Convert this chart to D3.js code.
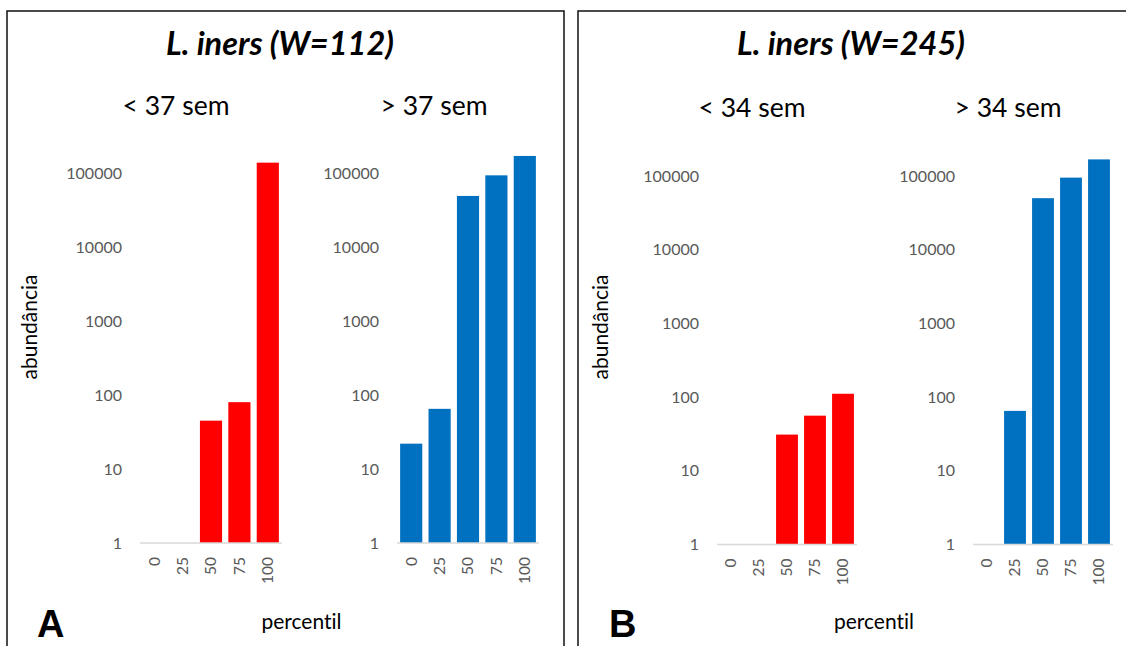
<!DOCTYPE html>
<html>
<head>
<meta charset="utf-8">
<script src="https://cdn.jsdelivr.net/npm/d3@7"></script>
<style>
  html, body { margin: 0; padding: 0; background: #fff; }
  svg { display: block; font-family: Lato, "Open Sans", sans-serif; font-variant-ligatures: none; }
</style>
</head>
<body>
<svg id="chart" width="1126" height="646"></svg>
<script>
// Percentile categories and y-axis tick values (log scale)
const categories = ["0", "25", "50", "75", "100"];
const yTicks = [1, 10, 100, 1000, 10000, 100000];

// L. iners abundance per percentile
const aPreterm = [0, 0, 45, 80, 138000];        // A: < 37 sem
const aTerm = [22, 65, 49000, 93000, 170000];   // A: > 37 sem
const bPreterm = [0, 0, 31, 56, 111];           // B: < 34 sem
const bTerm = [0, 65, 50000, 95000, 168000];    // B: > 34 sem

const panelTitles = ["L. iners (W=112)", "L. iners (W=245)"];
const panelLetters = ["A", "B"];
const groupLabels = [["< 37 sem", "> 37 sem"], ["< 34 sem", "> 34 sem"]];

const RED = "#ff0000", BLUE = "#0070c0";
const svg = d3.select("#chart");

// Panel frames and texts
const panels = [
  { box: [7, 11, 557, 700], cx: 280, subY: 115, subX: [176, 434], ylabX: 37, letterX: 37, pctX: 301.5,
    plots: [
      { values: aPreterm, color: RED, x0: 140, x1: 282, y1: 543, yTop: 173 },
      { values: aTerm, color: BLUE, x0: 397, x1: 539, y1: 543, yTop: 173 }
    ] },
  { box: [578, 11, 600, 700], cx: 851, subY: 117, subX: [752, 1008], ylabX: 608, letterX: 609, pctX: 874,
    plots: [
      { values: bPreterm, color: RED, x0: 717, x1: 857, y1: 544.5, yTop: 176 },
      { values: bTerm, color: BLUE, x0: 973, x1: 1113, y1: 544.5, yTop: 176 }
    ] }
];

panels.forEach((p, i) => {
  svg.append("rect")
    .attr("x", p.box[0]).attr("y", p.box[1])
    .attr("width", p.box[2]).attr("height", p.box[3])
    .attr("fill", "none").attr("stroke", "#111").attr("stroke-width", 1.5);

  svg.append("text")
    .attr("x", p.cx).attr("y", 55)
    .attr("text-anchor", "middle")
    .attr("font-size", 32.5).attr("font-weight", "bold").attr("font-style", "italic")
    .attr("fill", "#000")
    .text(panelTitles[i]);

  groupLabels[i].forEach((g, j) => {
    svg.append("text")
      .attr("x", p.subX[j]).attr("y", p.subY)
      .attr("text-anchor", "middle")
      .attr("font-size", 26.5).attr("fill", "#000")
      .text(g);
  });

  // y-axis title
  svg.append("text")
    .attr("transform", `translate(${p.ylabX},327) rotate(-90)`)
    .attr("text-anchor", "middle")
    .attr("font-size", 21).attr("fill", "#000")
    .text("abundância");

  // x-axis title
  svg.append("text")
    .attr("x", p.pctX).attr("y", 629)
    .attr("text-anchor", "middle")
    .attr("font-size", 21).attr("fill", "#000")
    .text("percentil");

  // panel letter
  svg.append("text")
    .attr("x", p.letterX).attr("y", 637)
    .attr("font-family", "'Liberation Sans', Arial, sans-serif")
    .attr("font-size", 38).attr("font-weight", "bold").attr("fill", "#000")
    .text(panelLetters[i]);

  p.plots.forEach(pl => drawPlot(pl));
});

function drawPlot(pl) {
  const x = d3.scaleBand().domain(categories).range([pl.x0, pl.x1])
    .paddingInner(0.22).paddingOuter(0.11);
  const y = d3.scaleLog().domain([1, 100000]).range([pl.y1, pl.yTop]);

  const g = svg.append("g");

  // y axis: labels only
  const yAxis = g.append("g")
    .attr("transform", `translate(${pl.x0},0)`)
    .call(d3.axisLeft(y).tickValues(yTicks).tickFormat(d3.format("d")).tickSize(0).tickPadding(18));
  yAxis.select(".domain").remove();
  yAxis.selectAll("text")
    .attr("font-family", "Lato, 'Open Sans', sans-serif")
    .attr("font-size", 16).attr("fill", "#595959");

  // bars
  const data = categories.map((c, k) => ({ c, v: pl.values[k] })).filter(d => d.v >= 1);
  g.selectAll("rect.bar").data(data).join("rect")
    .attr("class", "bar")
    .attr("x", d => x(d.c))
    .attr("width", x.bandwidth())
    .attr("y", d => y(d.v))
    .attr("height", d => y(1) - y(d.v))
    .attr("fill", pl.color);

  // category axis line
  g.append("line")
    .attr("x1", pl.x0).attr("x2", pl.x1)
    .attr("y1", y(1)).attr("y2", y(1))
    .attr("stroke", "#d9d9d9").attr("stroke-width", 1.5);

  // rotated category labels
  g.selectAll("text.cat").data(categories).join("text")
    .attr("class", "cat")
    .attr("transform", d => `translate(${x(d) + x.bandwidth() / 2},${y(1) + 14}) rotate(-90)`)
    .attr("text-anchor", "end")
    .attr("dy", "0.35em")
    .attr("font-size", 15.5).attr("fill", "#595959")
    .text(d => d);
}
</script>
</body>
</html>
